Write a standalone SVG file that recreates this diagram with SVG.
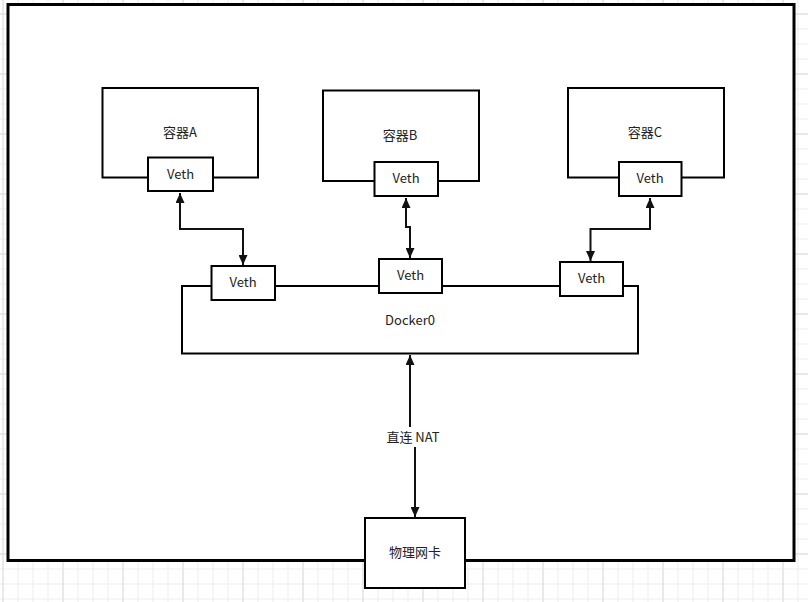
<svg xmlns="http://www.w3.org/2000/svg" width="808" height="602" viewBox="0 0 808 602">
<defs>
<pattern id="minor" x="2.5" y="13.5" width="15" height="15" patternUnits="userSpaceOnUse">
<path d="M0,0.5 H15 M0.5,0 V15" fill="none" stroke="#ececec" stroke-width="1"/>
</pattern>
<pattern id="major" x="2.5" y="13.5" width="60" height="60" patternUnits="userSpaceOnUse">
<path d="M0,0.5 H60 M0.5,0 V60" fill="none" stroke="#dcdcdc" stroke-width="1"/>
</pattern>
<marker id="arr" viewBox="0 0 10 9" refX="10" refY="4.5" markerWidth="10" markerHeight="9" markerUnits="userSpaceOnUse" orient="auto-start-reverse">
<path d="M0,0 L10,4.5 L0,9 z" fill="#111"/>
</marker>
<style>
.box{fill:#fff;stroke:#000;stroke-width:2}
.outer{fill:#fff;stroke:#000;stroke-width:3}
.t{font-family:"Noto Sans CJK SC","Noto Sans",sans-serif;font-size:13px;fill:#222;text-anchor:middle;dominant-baseline:central}
.c{fill:none;stroke:#111;stroke-width:2;marker-start:url(#arr);marker-end:url(#arr)}
</style>
</defs>
<rect width="808" height="602" fill="#fff"/>
<rect width="808" height="602" fill="url(#minor)"/>
<rect width="808" height="602" fill="url(#major)"/>
<g id="host">
<rect class="outer" x="8" y="4.5" width="786" height="556"/>
</g>
<g id="containerA">
<rect class="box" x="102.5" y="88" width="155.5" height="89.5"/>
<text class="t" x="180" y="131.5">容器A</text>
</g>
<g id="containerB">
<rect class="box" x="323" y="90.5" width="156" height="90.5"/>
<text class="t" x="400" y="134.5">容器B</text>
</g>
<g id="containerC">
<rect class="box" x="568" y="88" width="156" height="89.5"/>
<text class="t" x="645" y="131.5">容器C</text>
</g>
<g id="docker0">
<rect class="box" x="182" y="286" width="456" height="67.5"/>
<text class="t" x="410" y="319.5">Docker0</text>
</g>
<g id="vethA1">
<rect class="box" x="148" y="157.5" width="65" height="33.5"/>
<text class="t" x="180.5" y="173.5">Veth</text>
</g>
<g id="vethB1">
<rect class="box" x="374.5" y="162" width="63.5" height="34"/>
<text class="t" x="406" y="177.5">Veth</text>
</g>
<g id="vethC1">
<rect class="box" x="619" y="162" width="62.5" height="34"/>
<text class="t" x="650" y="177.5">Veth</text>
</g>
<g id="vethA2">
<rect class="box" x="211.5" y="266" width="63.5" height="34"/>
<text class="t" x="243" y="281.5">Veth</text>
</g>
<g id="vethB2">
<rect class="box" x="379" y="259" width="63" height="34"/>
<text class="t" x="410.5" y="274.5">Veth</text>
</g>
<g id="vethC2">
<rect class="box" x="560" y="262" width="63" height="34"/>
<text class="t" x="591.5" y="277.5">Veth</text>
</g>
<g id="nic">
<rect class="box" x="365" y="518" width="100" height="70"/>
<text class="t" x="415" y="551.5">物理网卡</text>
</g>
<g id="connectors">
<path class="c" d="M180,193 V229 H243 V265"/>
<path class="c" d="M406,198 V227 H410 V258"/>
<path class="c" d="M650,198 V229 H590.5 V261"/>
<path class="c" d="M410,355 V437 H415 V517"/>
<rect x="383" y="427" width="60" height="20" fill="#fff"/>
<text class="t" x="413" y="436.5">直连 NAT</text>
</g>
</svg>
